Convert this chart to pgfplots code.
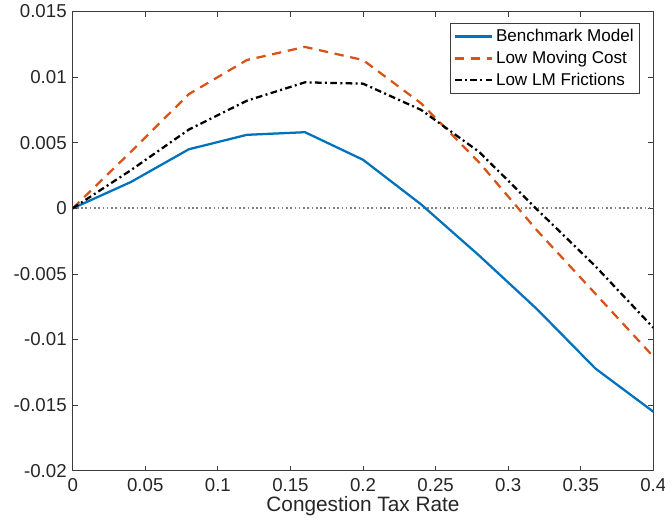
\documentclass[border=0pt]{standalone}
\usepackage{pgfplots}
\pgfplotsset{compat=1.18}
\usepackage{fontspec}
\setmainfont{Liberation Sans}
\definecolor{mblue}{RGB}{0,114,189}
\definecolor{morange}{RGB}{217,83,25}
\definecolor{axgray}{RGB}{60,60,60}
\begin{document}
\begin{tikzpicture}
\begin{axis}[
  scale only axis,
  width=435.4pt, height=344.4pt,
  xmin=0, xmax=0.4, ymin=-0.02, ymax=0.015,
  xtick={0,0.05,0.1,0.15,0.2,0.25,0.3,0.35,0.4},
  ytick={-0.02,-0.015,-0.01,-0.005,0,0.005,0.01,0.015},
  xticklabels={0,0.05,0.1,0.15,0.2,0.25,0.3,0.35,0.4},
  yticklabels={-0.02,-0.015,-0.01,-0.005,0,0.005,0.01,0.015},
  scaled x ticks=false, scaled y ticks=false,
  tick align=inside,
  major tick length=3.8pt,
  tick style={axgray, line width=0.6pt},
  axis line style={axgray, line width=0.6pt},
  ticklabel style={font=\fontsize{14}{16}\selectfont, text=black!85},
  yticklabel style={xshift=-1pt},
  xticklabel style={yshift=-2pt},
  xlabel={Congestion Tax Rate},
  xlabel style={font=\fontsize{15.6}{18}\selectfont, text=black!85, yshift=3pt},
  legend style={at={(0.977,0.975)}, anchor=north east,
    font=\fontsize{12.8}{15.6}\selectfont, draw=axgray, line width=0.6pt,
    inner sep=2.5pt, row sep=1.6pt},
  legend cell align=left,
  legend image code/.code={\draw[#1] (0pt,0pt) -- (28pt,0pt);},
]
\addplot[gray, line width=1.4pt, dash pattern=on 1.2pt off 2.0pt, forget plot] coordinates {(0,0) (0.4,0)};
\addplot[mblue, line width=1.7pt] coordinates {
(0,0) (0.04,0.0020) (0.08,0.0045) (0.12,0.0056) (0.16,0.0058) (0.2,0.0037)
(0.24,0.0003) (0.28,-0.0036) (0.32,-0.0077) (0.36,-0.0122) (0.4,-0.0155)};
\addlegendentry{Benchmark Model}
\addplot[morange, line width=1.7pt, dash pattern=on 7pt off 5pt] coordinates {
(0,0) (0.04,0.0043) (0.08,0.0087) (0.12,0.0113) (0.16,0.0123) (0.2,0.0113)
(0.24,0.0080) (0.28,0.0035) (0.32,-0.0017) (0.36,-0.0065) (0.4,-0.0113)};
\addlegendentry{Low Moving Cost}
\addplot[black, line width=1.7pt, dash pattern=on 5pt off 2.5pt on 1.5pt off 2.5pt] coordinates {
(0,0) (0.04,0.0029) (0.08,0.0060) (0.12,0.0082) (0.16,0.0096) (0.2,0.0095)
(0.24,0.0075) (0.28,0.0043) (0.32,-0.0001) (0.36,-0.0044) (0.4,-0.0091)};
\addlegendentry{Low LM Frictions}
\coordinate (bbll) at (rel axis cs:-0.1252,-0.127);
\coordinate (bbur) at (rel axis cs:1.0201,1.025);
\end{axis}
\pgfresetboundingbox
\useasboundingbox (bbll) rectangle (bbur);
\end{tikzpicture}
\end{document}
